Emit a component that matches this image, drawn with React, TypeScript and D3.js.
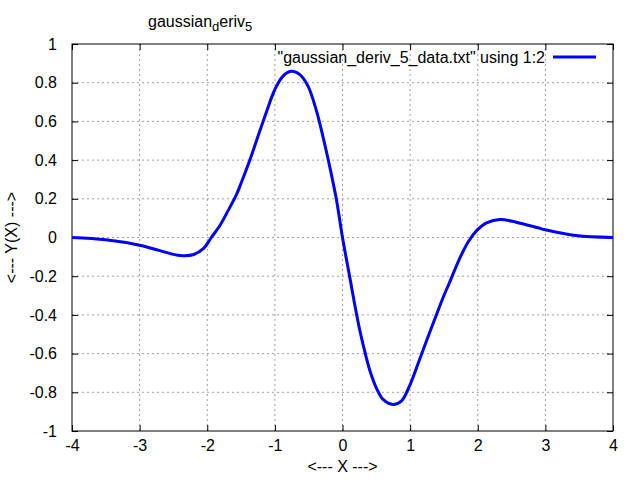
import React, { useEffect, useRef } from 'react';
import * as d3 from 'd3';

// values
const xValues = [
  -4, -3.5, -3, -2.7, -2.4, -2.2, -2.05, -1.94, -1.82, -1.69, -1.57, -1.5, -1.37, -1.25,
  -1.13, -1, -0.88, -0.76, -0.63, -0.51, -0.39, -0.29, -0.19, -0.09, 0, 0.11, 0.18, 0.25,
  0.33, 0.4, 0.5, 0.6, 0.75, 0.87, 0.99, 1.14, 1.29, 1.41, 1.5, 1.58, 1.73, 1.86, 1.99, 2.13,
  2.33, 2.57, 2.89, 3, 3.45, 4,
];
const yValues = [
  0, -0.012, -0.04, -0.068, -0.093, -0.088, -0.055, 0, 0.058, 0.14, 0.22, 0.28, 0.4, 0.523,
  0.644, 0.765, 0.834, 0.859, 0.842, 0.782, 0.661, 0.523, 0.368, 0.196, 0, -0.21, -0.345, -0.47,
  -0.59, -0.682, -0.777, -0.837, -0.863, -0.846, -0.768, -0.63, -0.49, -0.38, -0.3, -0.235, -0.11, -0.022, 0.038, 0.076,
  0.093, 0.079, 0.05, 0.04, 0.01, 0,
];
const xTicks = [-4, -3, -2, -1, 0, 1, 2, 3, 4];
const yTicks = [-1, -0.8, -0.6, -0.4, -0.2, 0, 0.2, 0.4, 0.6, 0.8, 1];
const legendLabel = '"gaussian_deriv_5_data.txt" using 1:2';

export default function App() {
  const ref = useRef<SVGSVGElement | null>(null);

  useEffect(() => {
    const svg = d3.select(ref.current);
    svg.selectAll('*').remove();

    const width = 640;
    const height = 480;
    const margin = { top: 44, right: 27, bottom: 49, left: 72 };
    const innerW = width - margin.left - margin.right;
    const innerH = height - margin.top - margin.bottom;
    const font = 'Liberation Sans, Arial, sans-serif';
    const fs = 16;

    svg.append('rect').attr('width', width).attr('height', height).attr('fill', '#fff');

    const x = d3.scaleLinear().domain([-4, 4]).range([0, innerW]);
    const y = d3.scaleLinear().domain([-1, 1]).range([innerH, 0]);

    const g = svg.append('g').attr('transform', `translate(${margin.left},${margin.top})`);

    // dotted grid
    const grid = g.append('g').attr('stroke', '#a0a0a0').attr('stroke-width', 1)
      .attr('stroke-dasharray', '2,3');
    xTicks.slice(1, -1).forEach(t => {
      grid.append('line').attr('x1', x(t)).attr('x2', x(t)).attr('y1', 0).attr('y2', innerH);
    });
    yTicks.slice(1, -1).forEach(t => {
      grid.append('line').attr('x1', 0).attr('x2', innerW).attr('y1', y(t)).attr('y2', y(t));
    });

    // axes, ticks inward and mirrored
    const yAxis = d3.axisLeft(y).tickValues(yTicks).tickSize(-6).tickPadding(15)
      .tickFormat(d => String(+d));
    const xAxis = d3.axisBottom(x).tickValues(xTicks).tickSize(-6).tickPadding(9)
      .tickFormat(d => String(+d));

    const ya = g.append('g').call(yAxis);
    const xa = g.append('g').attr('transform', `translate(0,${innerH})`).call(xAxis);
    g.append('g').attr('transform', `translate(${innerW},0)`)
      .call(d3.axisRight(y).tickValues(yTicks).tickSize(-6).tickFormat(() => ''));
    g.append('g').call(d3.axisTop(x).tickValues(xTicks).tickSize(-6).tickFormat(() => ''));

    g.selectAll('.domain').remove();
    g.selectAll('.tick line').attr('stroke', '#000');
    [ya, xa].forEach(a => a.selectAll('text')
      .attr('font-family', font).attr('font-size', fs).attr('fill', '#000'));
    xa.selectAll('text').attr('dy', '0.71em');

    g.append('rect').attr('width', innerW).attr('height', innerH)
      .attr('fill', 'none').attr('stroke', '#000').attr('stroke-width', 1);

    // curve
    const points = xValues.map((v, i) => [v, yValues[i]] as [number, number]);
    const line = d3.line<[number, number]>()
      .x(d => x(d[0]))
      .y(d => y(d[1]))
      .curve(d3.curveCatmullRom);
    g.append('path').datum(points)
      .attr('fill', 'none').attr('stroke', '#0000ff').attr('stroke-width', 3)
      .attr('d', line);

    // legend
    const lg = g.append('g').attr('transform', `translate(${innerW},13)`);
    lg.append('text').attr('x', -68).attr('y', 0).attr('dy', '0.35em')
      .attr('text-anchor', 'end').attr('font-family', font).attr('font-size', fs)
      .text(legendLabel);
    lg.append('line').attr('x1', -60).attr('x2', -17).attr('y1', 0).attr('y2', 0)
      .attr('stroke', '#0000ff').attr('stroke-width', 3);

    // title with subscripts
    const title = svg.append('text').attr('x', 148).attr('y', 27)
      .attr('font-family', font).attr('font-size', fs);
    title.append('tspan').text('gaussian');
    title.append('tspan').attr('font-size', 13).attr('dy', 4).text('d');
    title.append('tspan').attr('dy', -4).text('eriv');
    title.append('tspan').attr('font-size', 13).attr('dy', 4).text('5');

    // axis labels
    svg.append('text').attr('x', margin.left + x(0)).attr('y', 472)
      .attr('text-anchor', 'middle').attr('font-family', font).attr('font-size', fs)
      .text('<--- X --->');
    svg.append('text').attr('transform', `translate(17,${margin.top + y(0)}) rotate(-90)`)
      .attr('text-anchor', 'middle').attr('font-family', font).attr('font-size', fs)
      .text('<--- Y(X) --->');
  }, []);

  return (
    <svg ref={ref} width={640} height={480}
      style={{ position: 'absolute', left: 0, top: 0, display: 'block' }} />
  );
}
